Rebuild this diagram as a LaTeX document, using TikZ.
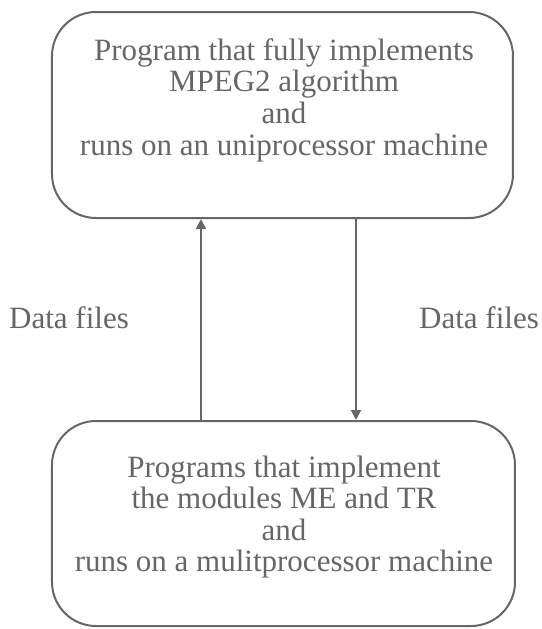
\documentclass[tikz,border=0pt]{standalone}
\usepackage{fontspec}
\setmainfont{Liberation Serif}
\usetikzlibrary{arrows.meta, positioning, calc}
\tikzset{
  every picture/.style={line width=1pt},
  every node/.style={font=\fontsize{15.5}{15.8}\selectfont, text=black!60},
  procbox/.style={draw=black!60, rounded corners=22pt, line width=1pt, inner sep=0pt},
  flow/.style={draw=black!60, line width=1pt, -{Triangle[length=5pt, width=5pt]}}
}
\begin{document}
\begin{tikzpicture}[x=0.5pt, y=-0.5pt]
    \useasboundingbox (0,0) rectangle (542,629);

    \node [procbox, minimum width=230.5pt, minimum height=103pt] (top) at (282.5,115) {};
    \node [procbox, minimum width=231.5pt, minimum height=102.5pt] (bot) at (283.5,523.5) {};

    \node [align=center] (toptext) at (284,100) {Program that fully implements\\MPEG2 algorithm\\and\\runs on an uniprocessor machine};
    \node [align=center] (bottext) at (284,517) {Programs that implement\\ the modules ME and TR\\and\\runs on a mulitprocessor machine};

    \coordinate (lx) at (201,0);
    \coordinate (rx) at (356,0);

    \node (lbl1) at (69,318) {Data files};
    \node (lbl2) at (479,318) {Data files};

    \draw [flow] (bot.north -| lx) -- (top.south -| lx);
    \draw [flow] (top.south -| rx) -- (bot.north -| rx);
\end{tikzpicture}
\end{document}
